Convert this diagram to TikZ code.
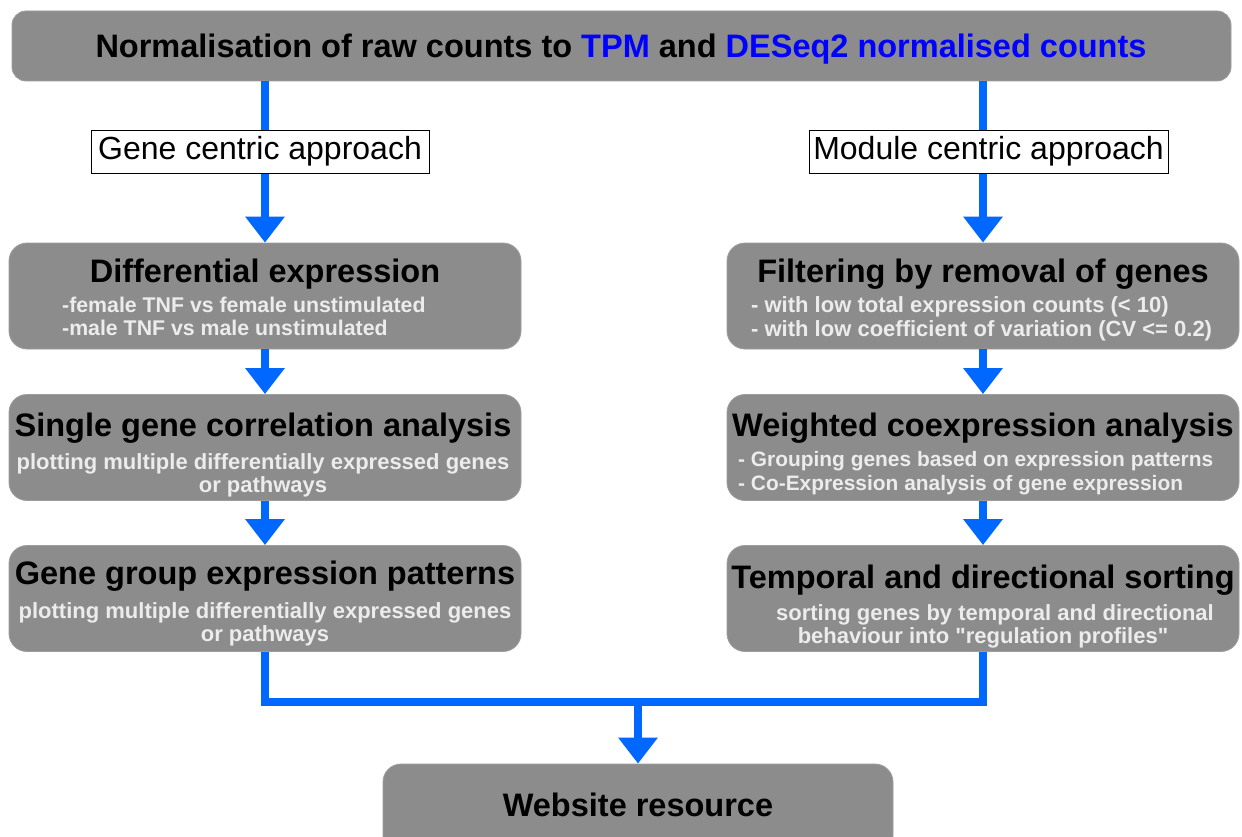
\documentclass[tikz,border=0pt]{standalone}
\usepackage{fontspec}
\setmainfont{Liberation Sans}
\usetikzlibrary{arrows.meta}
\definecolor{boxgray}{HTML}{8C8C8C}
\definecolor{flowblue}{HTML}{0068FF}
\definecolor{subgray}{HTML}{ECECEC}
\definecolor{tblue}{HTML}{0000FF}
\begin{document}
\begin{tikzpicture}[x=1pt,y=-1pt,
  gbox/.style={fill=boxgray, draw=boxgray!85!white, line width=0.8pt, rounded corners=18pt, inner sep=0pt, minimum width=512pt, minimum height=106pt},
  ttl/.style={font=\bfseries\fontsize{32.5}{36}\selectfont, text=black, inner sep=0pt, anchor=base},
  subc/.style={font=\bfseries\fontsize{22}{23}\selectfont, text=subgray, inner sep=0pt, anchor=base},
  subl/.style={subc, anchor=base west},
  subs/.style={subl, font=\bfseries\fontsize{21.1}{23}\selectfont},
  lbl/.style={draw=black, fill=white, line width=0.8pt, font=\fontsize{32}{36}\selectfont, inner sep=0pt, minimum height=43pt},
  flow/.style={draw=flowblue, line width=8pt, line join=miter},
  arr/.style={flow, -{Triangle[width=38pt,length=26pt]}}
]
\useasboundingbox (0,0) rectangle (1242,837);
\clip (0,0) rectangle (1242,837);
\fill[white] (0,0) rectangle (1242,837);

% top box
\node[gbox, rounded corners=14pt, minimum width=1219pt, minimum height=70pt] (top) at (621.5,46) {};
\node[ttl] (toptxt) at (621,58) {Normalisation of raw counts to \textcolor{tblue}{TPM} and \textcolor{tblue}{DESeq2 normalised counts}};

% left column
\node[gbox] (de) at (265,296) {};
\node[ttl] (detitle) at (265,282) {Differential expression};
\node[subs, font=\bfseries\fontsize{21.3}{23}\selectfont] (desub1) at (62,312) {-female TNF vs female unstimulated};
\node[subs, font=\bfseries\fontsize{21.3}{23}\selectfont] (desub2) at (62,335) {-male TNF vs male unstimulated};

\node[gbox] (sg) at (265,447.5) {};
\node[ttl] (sgtitle) at (263,436) {Single gene correlation analysis};
\node[subc] (sgsub1) at (263,469) {plotting multiple differentially expressed genes};
\node[subc] (sgsub2) at (263,492) {or pathways};

\node[gbox] (gg) at (265,598.5) {};
\node[ttl] (ggtitle) at (265,584) {Gene group expression patterns};
\node[subc] (ggsub1) at (265,618) {plotting multiple differentially expressed genes};
\node[subc] (ggsub2) at (265,641) {or pathways};

% right column
\node[gbox] (fi) at (983,296) {};
\node[ttl] (fititle) at (983,282) {Filtering by removal of genes};
\node[subl] (fisub1) at (751,312) {- with low total expression counts (< 10)};
\node[subl] (fisub2) at (751,336) {- with low coefficient of variation (CV <= 0.2)};

\node[gbox] (wc) at (983,447.5) {};
\node[ttl] (wctitle) at (983,436) {Weighted coexpression analysis};
\node[subs, font=\bfseries\fontsize{20.9}{23}\selectfont] (wcsub1) at (738,466) {- Grouping genes based on expression patterns};
\node[subs, font=\bfseries\fontsize{20.9}{23}\selectfont] (wcsub2) at (738,490) {- Co-Expression analysis of gene expression};

\node[gbox] (ts) at (983,598.5) {};
\node[ttl] (tstitle) at (983,588) {Temporal and directional sorting};
\node[subc] (tssub1) at (995,620) {sorting genes by temporal and directional};
\node[subc] (tssub2) at (983,643) {behaviour into \textquotedbl regulation profiles\textquotedbl};

% bottom
\node[gbox, minimum width=510pt, minimum height=90pt] (web) at (638,809) {};
\node[ttl] (webtxt) at (638,816) {Website resource};

% connectors
\draw[arr] (top.south -| de.north) -- (de.north);
\draw[arr] (top.south -| fi.north) -- (fi.north);
\draw[arr] (de.south) -- (sg.north);
\draw[arr] (sg.south) -- (gg.north);
\draw[arr] (fi.south) -- (wc.north);
\draw[arr] (wc.south) -- (ts.north);
\coordinate (join) at (638,702);
\draw[flow] (gg.south) -- (gg.south |- join) -- (ts.south |- join) -- (ts.south);
\draw[arr] (join) -- (web.north);

% approach labels
\node[lbl, minimum width=338pt] (gene) at (260,151.5) {Gene centric approach};
\node[lbl, minimum width=359pt] (module) at (988.5,151.5) {Module centric approach};
\end{tikzpicture}
\end{document}
